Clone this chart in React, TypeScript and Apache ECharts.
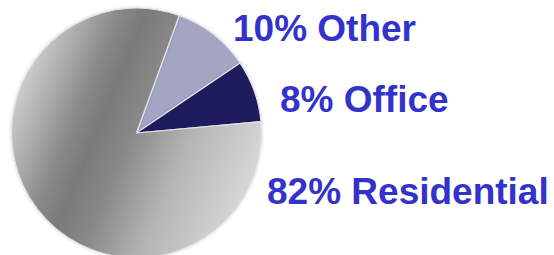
import React, { useEffect, useRef } from "react";
import * as echarts from "echarts";

const categories = ["Other", "Office", "Residential"];
const shares = [10, 8, 82];
const sliceColors: any[] = [
  "#a3a5c3",
  "#1b1b5e",
  new echarts.graphic.LinearGradient(
    21,
    85,
    252,
    181,
    [
      { offset: 0, color: "#cbcbcb" },
      { offset: 0.12, color: "#adadad" },
      { offset: 0.25, color: "#898989" },
      { offset: 0.35, color: "#7a7a7a" },
      { offset: 0.48, color: "#888888" },
      { offset: 0.7, color: "#b4b4b4" },
      { offset: 1, color: "#d7d7d7" },
    ],
    true
  ),
];
const labelPos = [
  [233, 28],
  [280, 99],
  [267, 191],
];

export default function App() {
  const ref = useRef<HTMLDivElement>(null);
  useEffect(() => {
    if (!ref.current) return;
    const chart = echarts.init(ref.current, null, { renderer: "svg" });
    chart.setOption({
      animation: false,
      series: [
        {
          type: "pie",
          center: [136.5, 133],
          radius: 125,
          startAngle: 70,
          clockwise: true,
          avoidLabelOverlap: false,
          data: categories.map((name, i) => ({
            name,
            value: shares[i],
            itemStyle: { color: sliceColors[i] },
          })),
          itemStyle: {
            borderColor: "#e2e2ea",
            borderWidth: 1.2,
            shadowBlur: 3,
            shadowColor: "rgba(0,0,0,0.18)",
          },
          label: {
            show: true,
            formatter: (p: any) => `${p.value}% ${p.name}`,
            color: "#3333cc",
            fontFamily: "'Liberation Sans', Arial, sans-serif",
            fontWeight: "bold",
            fontSize: 37,
          },
          labelLine: { show: false },
          labelLayout: (params: any) => ({
            x: labelPos[params.dataIndex][0],
            y: labelPos[params.dataIndex][1],
            align: "left",
            verticalAlign: "middle",
          }),
          emphasis: { disabled: true },
        },
      ],
    });
    return () => chart.dispose();
  }, []);
  return (
    <div
      ref={ref}
      style={{ position: "fixed", left: 0, top: 0, width: 554, height: 255, background: "#fff" }}
    />
  );
}
